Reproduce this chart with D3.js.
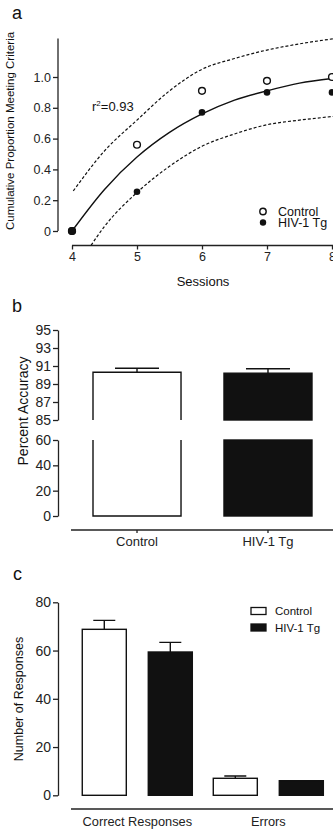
<!DOCTYPE html>
<html>
<head>
<meta charset="utf-8">
<script src="https://cdn.jsdelivr.net/npm/d3@7/dist/d3.min.js"></script>
<style>
  body { margin: 0; background: #fff; }
  svg { display: block; font-family: "Liberation Sans", Arial, sans-serif; }
  .axis path, .axis line { stroke: #222; stroke-width: 1.3; }
  .axis text { fill: #222; }
</style>
</head>
<body>
<div id="chart"></div>
<script>
// ---- panel a: cumulative proportion meeting criteria ----
const sessions = [4, 5, 6, 7, 8];
const controlProp = [0, 0.56, 0.91, 0.975, 1.0];
const hivProp = [0, 0.255, 0.77, 0.90, 0.90];
// fitted curve and dashed band
const fitX = [4, 4.5, 5, 5.5, 6, 6.5, 7, 7.5, 8];
const fitY = [0, 0.27, 0.48, 0.64, 0.76, 0.85, 0.91, 0.96, 0.99];
const upperX = [4.02, 4.5, 5, 5.5, 6, 6.5, 7, 7.5, 8.05];
const upperY = [0.26, 0.52, 0.72, 0.91, 1.05, 1.12, 1.175, 1.215, 1.25];
const lowerX = [4.25, 4.5, 5, 5.5, 6, 6.5, 7, 7.5, 8.05];
const lowerY = [-0.12, 0.03, 0.25, 0.42, 0.55, 0.63, 0.69, 0.72, 0.745];
const propTicks = [0, 0.2, 0.4, 0.6, 0.8, 1.0];

// ---- panel b: percent accuracy ----
const groups = ["Control", "HIV-1 Tg"];
const accuracy = [90.3, 90.2];
const accuracySem = [0.45, 0.5];
const accUpperTicks = [85, 87, 89, 91, 93, 95];
const accLowerTicks = [0, 20, 40, 60];

// ---- panel c: number of responses ----
const responseTypes = ["Correct Responses", "Errors"];
const controlResp = [68.8, 7.05];
const controlRespSem = [3.7, 0.95];
const hivResp = [59.4, 6.05];
const hivRespSem = [4.0, 0];
const respTicks = [0, 20, 40, 60, 80];

const W = 333, H = 834;
const svg = d3.select("#chart").append("svg").attr("width", W).attr("height", H);
const ink = "#111";

function panelLabel(t, x, y) {
  svg.append("text").attr("x", x).attr("y", y).attr("font-size", 18).attr("fill", ink).text(t);
}

// ================= panel a =================
panelLabel("a", 12, 19);
const xa = d3.scaleLinear().domain([4, 8]).range([72, 332]);
const ya = d3.scaleLinear().domain([0, 1.25]).range([231, 38.5]);

svg.append("g").attr("class", "axis").attr("transform", "translate(58,0)")
  .call(d3.axisLeft(ya).tickValues(propTicks).tickSize(5).tickPadding(2).tickSizeOuter(0)
    .tickFormat(d => d === 0 ? "0" : d3.format(".1f")(d)))
  .call(g => g.selectAll("text").attr("font-size", 12.5))
  .call(g => g.select(".domain").attr("d", `M0,${ya(1.25)}V${ya(0)}`));

svg.append("g").attr("class", "axis").attr("transform", "translate(0,245.5)")
  .call(d3.axisBottom(xa).tickValues(sessions).tickSize(4).tickPadding(3).tickSizeOuter(0)
    .tickFormat(d3.format("d")))
  .call(g => g.selectAll("text").attr("font-size", 12.5))
  .call(g => g.select(".domain").attr("d", `M${xa(4)},0H${W + 5}`));

svg.append("text").attr("transform", "translate(14,131) rotate(-90)")
  .attr("text-anchor", "middle").attr("font-size", 11.5).attr("fill", ink)
  .text("Cumulative Proportion Meeting Criteria");
svg.append("text").attr("x", 203).attr("y", 286).attr("text-anchor", "middle")
  .attr("font-size", 13).attr("fill", ink).text("Sessions");

svg.append("clipPath").attr("id", "clipA").append("rect")
  .attr("x", 58).attr("y", 0).attr("width", W).attr("height", 245.5);
const plotA = svg.append("g").attr("clip-path", "url(#clipA)");
const line = d3.line().x(d => xa(d[0])).y(d => ya(d[1])).curve(d3.curveMonotoneX);

plotA.append("path").attr("d", line(d3.zip(upperX, upperY)))
  .attr("fill", "none").attr("stroke", ink).attr("stroke-width", 1.2).attr("stroke-dasharray", "3,2");
plotA.append("path").attr("d", line(d3.zip(lowerX, lowerY)))
  .attr("fill", "none").attr("stroke", ink).attr("stroke-width", 1.2).attr("stroke-dasharray", "3,2");
plotA.append("path").attr("d", line(d3.zip(fitX, fitY)))
  .attr("fill", "none").attr("stroke", ink).attr("stroke-width", 1.4);

svg.append("g").selectAll("circle").data(d3.zip(sessions, controlProp)).join("circle")
  .attr("cx", d => xa(d[0])).attr("cy", d => ya(d[1])).attr("r", 3.4)
  .attr("fill", "#fff").attr("stroke", ink).attr("stroke-width", 1.4);
svg.append("g").selectAll("circle").data(d3.zip(sessions, hivProp)).join("circle")
  .attr("cx", d => xa(d[0])).attr("cy", d => ya(d[1])).attr("r", d => d[0] === 4 ? 4.1 : 3.3)
  .attr("fill", ink);

const r2 = svg.append("text").attr("x", 92).attr("y", 111).attr("font-size", 13).attr("fill", ink);
r2.append("tspan").text("r");
r2.append("tspan").attr("font-size", 8).attr("dy", -5).text("2");
r2.append("tspan").attr("dy", 5).text("=0.93");

// legend a
groups.forEach((g, i) => {
  svg.append("circle").attr("cx", 263).attr("cy", 211.5 + i * 11).attr("r", 3.2)
    .attr("fill", i === 0 ? "#fff" : ink).attr("stroke", ink).attr("stroke-width", i === 0 ? 1.4 : 0);
  svg.append("text").attr("x", 278).attr("y", 215.8 + i * 11).attr("font-size", 12.5).attr("fill", ink).text(g);
});

// ================= panel b =================
panelLabel("b", 12, 312);
const xb = d3.scaleBand().domain(groups).range([71, 334]).paddingInner(0.328).paddingOuter(0.168);
const ybU = d3.scaleLinear().domain([85, 95]).range([420, 330]);
const ybL = d3.scaleLinear().domain([0, 60]).range([516, 440]);

svg.append("g").attr("class", "axis").attr("transform", "translate(58,0)")
  .call(d3.axisLeft(ybU).tickValues(accUpperTicks).tickSize(5).tickPadding(2).tickSizeOuter(0))
  .call(g => g.selectAll("text").attr("font-size", 14));
svg.append("g").attr("class", "axis").attr("transform", "translate(58,0)")
  .call(d3.axisLeft(ybL).tickValues(accLowerTicks).tickSize(5).tickPadding(2).tickSizeOuter(0))
  .call(g => g.selectAll("text").attr("font-size", 14));

svg.append("g").attr("class", "axis").attr("transform", "translate(0,530)")
  .call(d3.axisBottom(xb).tickSize(3).tickPadding(4).tickSizeOuter(0))
  .call(g => g.selectAll("text").attr("font-size", 13))
  .call(g => g.select(".domain").attr("d", `M71,0H${W + 5}`));

svg.append("text").attr("transform", "translate(28,411) rotate(-90)")
  .attr("text-anchor", "middle").attr("font-size", 14).attr("fill", ink).text("Percent Accuracy");

groups.forEach((g, i) => {
  const x0 = xb(g), x1 = x0 + xb.bandwidth();
  const top = ybU(accuracy[i]);
  const filled = i === 1;
  const bar = svg.append("g").attr("stroke", ink).attr("stroke-width", 1.4);
  if (filled) {
    bar.append("rect").attr("x", x0).attr("y", top).attr("width", x1 - x0).attr("height", ybU(85) - top).attr("fill", ink);
    bar.append("rect").attr("x", x0).attr("y", ybL(60)).attr("width", x1 - x0).attr("height", ybL(0) - ybL(60)).attr("fill", ink);
  } else {
    bar.append("path").attr("fill", "#fff").attr("d", `M${x0},${ybU(85)}V${top}H${x1}V${ybU(85)}`);
    bar.append("path").attr("fill", "#fff").attr("d", `M${x0},${ybL(60)}V${ybL(0)}H${x1}V${ybL(60)}`);
  }
  const cx = x0 + xb.bandwidth() / 2, et = ybU(accuracy[i] + accuracySem[i]);
  bar.append("path").attr("fill", "none").attr("d", `M${cx},${top}V${et}M${cx - 22},${et}H${cx + 22}`);
});

// ================= panel c =================
panelLabel("c", 13, 580);
const xc = d3.scaleBand().domain(responseTypes).range([71, 334.6]).paddingInner(0.16).paddingOuter(0.086);
const xcSub = d3.scaleBand().domain(groups).range([0, xc.bandwidth()]).paddingInner(0.333);
const yc = d3.scaleLinear().domain([0, 80]).range([795.3, 602.3]);

svg.append("g").attr("class", "axis").attr("transform", "translate(58,0)")
  .call(d3.axisLeft(yc).tickValues(respTicks).tickSize(5).tickPadding(2).tickSizeOuter(0))
  .call(g => g.selectAll("text").attr("font-size", 14));

svg.append("g").attr("class", "axis").attr("transform", "translate(0,809)")
  .call(d3.axisBottom(xc).tickSize(0).tickPadding(8))
  .call(g => g.selectAll("text").attr("font-size", 12.8))
  .call(g => g.select(".domain").attr("d", `M71,0H${W + 5}`));

svg.append("text").attr("transform", "translate(23,699) rotate(-90)")
  .attr("text-anchor", "middle").attr("font-size", 12.5).attr("fill", ink).text("Number of Responses");

const respRows = responseTypes.flatMap((t, i) => [
  { t, g: groups[0], v: controlResp[i], e: controlRespSem[i] },
  { t, g: groups[1], v: hivResp[i], e: hivRespSem[i] }
]);
const cBars = svg.append("g").attr("stroke", ink).attr("stroke-width", 1.4);
respRows.forEach(d => {
  const x0 = xc(d.t) + xcSub(d.g), bw = xcSub.bandwidth();
  const cx = x0 + bw / 2;
  if (d.e > 0) {
    const et = yc(d.v + d.e);
    cBars.append("path").attr("fill", "none").attr("d", `M${cx},${yc(d.v)}V${et}M${cx - 11},${et}H${cx + 11}`);
  }
  cBars.append("rect").attr("x", x0).attr("y", yc(d.v)).attr("width", bw).attr("height", yc(0) - yc(d.v))
    .attr("fill", d.g === groups[0] ? "#fff" : ink);
});

// legend c
const legC = svg.append("g");
groups.forEach((g, i) => {
  legC.append("rect").attr("x", 251).attr("y", 607.5 + i * 16.5).attr("width", 15).attr("height", 7)
    .attr("fill", i === 0 ? "#fff" : ink).attr("stroke", ink).attr("stroke-width", 1.3);
  legC.append("text").attr("x", 275).attr("y", 615 + i * 16.5).attr("font-size", 11.5).attr("fill", ink).text(g);
});
</script>
</body>
</html>
